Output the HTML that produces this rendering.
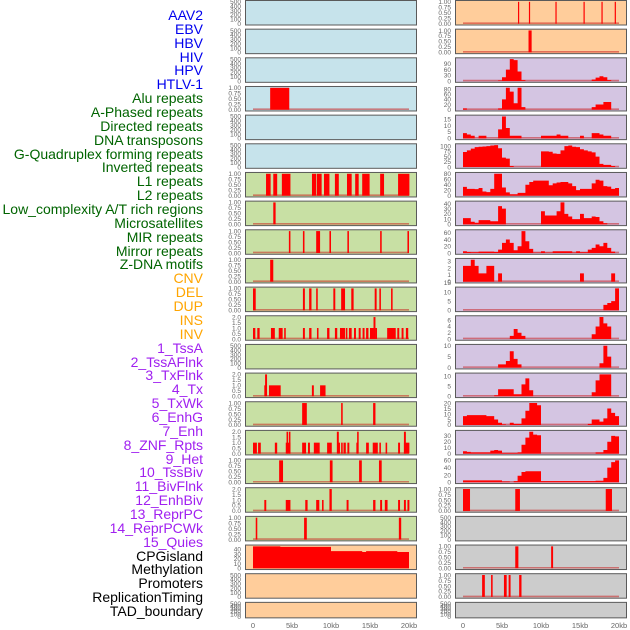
<!DOCTYPE html>
<html><head><meta charset="utf-8"><style>
html,body{margin:0;padding:0;background:#fff;}
#wrap{position:relative;width:630px;height:630px;overflow:hidden;font-family:"Liberation Sans",sans-serif;}
.lab{position:absolute;right:427px;font-size:14px;line-height:14px;white-space:nowrap;}
svg{position:absolute;left:0;top:0;}
</style></head><body>
<div id="wrap">
<div id="labels"></div>
<svg id="chart" width="630" height="630"></svg>
</div>
<script>
// ---- track labels ----
const labelNames = ["AAV2","EBV","HBV","HIV","HPV","HTLV-1","Alu repeats","A-Phased repeats","Directed repeats","DNA transposons","G-Quadruplex forming repeats","Inverted repeats","L1 repeats","L2 repeats","Low_complexity A/T rich regions","Microsatellites","MIR repeats","Mirror repeats","Z-DNA motifs","CNV","DEL","DUP","INS","INV","1_TssA","2_TssAFlnk","3_TxFlnk","4_Tx","5_TxWk","6_EnhG","7_Enh","8_ZNF_Rpts","9_Het","10_TssBiv","11_BivFlnk","12_EnhBiv","13_ReprPC","14_ReprPCWk","15_Quies","CPGisland","Methylation","Promoters","ReplicationTiming","TAD_boundary"];
const labelGroups = [6,13,5,15,5];
const groupColors = ["#0000ee","#006400","#ffa500","#a020f0","#000000"];

// ---- tick labels ----
const ticks500 = ["0","100","200","300","400","500"];
const ticks1 = ["0.00","0.25","0.50","0.75","1.00"];
const ticks2 = ["0.0","0.5","1.0","1.5","2.0"];
const xTickLabels = ["0","5kb","10kb","15kb","20kb"];
const xTickValues = [0,5,10,15,20];

// ---- interval data (start kb, end kb, height) ----
const hivLeftIntervals = [[2.2,4.65,1]];
const l1Intervals = [[1.67,2.26,1],[2.6,3.1,1],[3.7,4.8,1],[7.56,8.08,1],[8.17,8.8,1],[9.1,9.8,1],[10.5,11.0,1],[12.05,12.65,1],[13.1,13.55,1],[14.0,14.95,1],[16.3,16.8,1],[18.6,20.05,1]];
const l2Intervals = [[2.6,2.9,1]];
const lowcLeftIntervals = [[4.6,4.8,1],[6.4,6.6,1],[8.1,8.6,1],[9.8,10.0,1],[12.1,12.3,1],[16.3,16.5,1],[19.8,20.0,1]];
const microLeftIntervals = [[2.2,2.6,1]];
const mirLeftIntervals = [[0,0.35,1],[6.4,6.65,1],[7.2,7.5,1],[8.1,8.3,1],[10.3,10.55,1],[11.3,11.8,1],[12.6,12.9,1],[15.6,15.85,1],[16.2,16.4,1],[17.7,17.9,1]];
const mirrorLeftIntervals = [[0,0.3,1],[0.55,0.85,1],[2.3,2.8,1],[3.3,3.8,1],[4.0,4.2,1],[6.4,6.65,1],[7.2,7.5,1],[8.2,8.4,1],[9.5,9.8,1],[10.5,10.8,1],[11.15,11.8,1],[11.9,12.1,1],[12.3,12.65,1],[12.95,13.2,1],[13.55,13.8,1],[14.05,14.3,1],[14.5,14.8,1],[15.0,15.45,1],[15.45,15.7,2],[15.7,15.9,1],[17.2,18.3,1],[18.5,18.75,1],[19.05,19.3,1],[19.6,19.9,1]];
const cnvIntervals = [[1.45,1.65,1],[1.55,1.8,2],[2.05,3.55,1],[7.55,7.8,1],[8.6,9.3,1]];
const delIntervals = [[6.3,6.9,1],[11.3,11.5,1],[15.4,15.7,1]];
const dupIntervals = [[0,0.5,1],[0.65,1.0,1],[2.8,3.1,1],[4.2,4.8,1],[4.3,4.5,2],[4.6,4.8,2],[6.3,6.8,1],[7.05,7.3,1],[7.8,8.55,1],[9.5,10.1,1],[10.75,11.0,2],[10.85,11.15,1],[11.3,11.5,1],[11.6,11.9,1],[12.1,12.35,1],[13.25,13.45,1],[13.35,13.55,2],[14.5,14.85,1],[15.35,16.0,1],[16.2,16.4,1],[17.0,17.2,1],[18.6,18.85,1],[19.35,20.05,1],[19.35,19.6,2]];
const row16LeftIntervals = [[3.35,3.85,1],[9.85,10.2,1],[13.6,13.95,1],[16.15,16.5,1]];
const row17LeftIntervals = [[1.45,1.7,1],[4.2,4.8,1],[6.7,7.0,1],[8.1,8.5,1],[8.85,9.05,1],[9.8,10.1,2],[12.0,12.25,1],[15.4,15.7,1],[16.3,16.55,1],[16.9,17.25,1],[18.6,18.85,1],[19.35,19.6,1],[19.8,20.05,1]];
const row18LeftIntervals = [[0.35,0.55,1],[6.55,6.9,1],[18.7,19.0,1]];
const insIntervals = [[7.05,7.2,1],[8.45,8.6,1],[11.85,12.0,1],[15.45,15.6,1],[17.75,17.9,1],[19.45,19.6,1]];
const invIntervals = [[8.4,8.8,1]];
const enhBivIntervals = [[0,0.9,1],[6.7,7.3,1],[18.3,19.1,1]];
const cpgIntervals = [[6.7,7.1,1],[11.3,11.55,1]];
const promoterIntervals = [[2.45,2.8,1],[3.6,3.8,1],[5.25,5.6,1],[5.85,6.1,1],[7.2,7.5,1]];

// ---- binned data (40 bins of 0.5 kb from 0 to 20 kb) ----
const hivRightBins = [0,0,0,0,0,0,0,0,0,3,20,60,115,110,50,5,0,0,0,0,0,0,0,0,0,0,0,0,0,0,0,0,0,8,18,25,20,5,0,0];
const hpvBins = [5,0,0,0,0,0,0,0,0,5,40,85,70,25,85,10,0,0,0,0,0,0,0,0,0,0,0,0,0,0,0,0,0,10,20,20,30,30,0,0];
const htlvBins = [4,3,2,0,2,2,0,0,0,7,17,8,2,2,2,0,0,0,0,0,2,2,2,2,3,2,2,0,0,0,2,0,0,4,4,3,2,2,0,0];
const aluBins = [72,80,88,95,97,98,100,103,105,90,45,40,5,0,0,0,0,0,0,0,75,75,73,65,63,80,100,103,97,95,85,80,75,70,50,15,10,10,5,0];
const aphasedBins = [32,25,25,24,28,15,13,25,80,80,30,12,5,5,10,10,40,50,55,55,55,55,38,45,48,50,50,45,35,20,25,25,25,45,58,55,35,33,25,28];
const directedBins = [12,12,5,3,8,8,8,6,6,35,30,0,0,0,0,0,0,0,0,0,25,17,17,17,25,42,20,15,10,10,20,12,12,15,14,6,2,0,0,0];
const dnaBins = [5,3,2,2,4,4,4,4,3,10,30,40,30,8,20,65,35,12,1,1,5,1,1,5,5,5,5,5,1,5,2,2,10,15,25,20,30,15,4,0];
const gquadBins = [2.3,2.3,3.2,2.3,1.2,1.2,2.3,2.3,0,1.2,0,0,0,0,0,0,0,0,0,0,0,0,0,0,0,0,0,0,0,0,1.2,0,0,0,0,0,0,0,1.2,0];
const invertedBins = [0,0,0,0,0,0,0,0,0,0,0,0,0,0,0,0,0,0,0,0,0,0,0,0,0,0,0,0,0,0,0,0,0,0,0,0,3,4,5,12];
const lowcRightBins = [0,0,0,0,0,0,0,0,0,0,0,0,1,3.2,2,1,0,0,0,0,0,0,0,0,0,0,0,0,0,0,0,0,0,1.5,4,7,5,4,0,0];
const microRightBins = [0,0,0,0,0,0,0,0,0,1.5,1.5,3,7.5,4,1.5,0,0,0,0,0,0,0,0,0,0,0,0,0,0,0,0,0,0,0,0,2,10,5,0,0];
const mirRightBins = [0,0,0,0,0,0,0,0,0.5,3.5,3.5,3.5,3.5,1,1,6,9,3,0,0,0,0,0,0,0,0,0,0,0,0,0,0,0,2,8,11,11,11,0,0];
const mirrorRightBins = [8,9,9,9,9,9,8,8,5,2,0.5,0,2,1,1,6,13,20,20,18,0,0,0,0,0,0,0,0,0,0,0,0,1,5,5,3,6,15,11,8];
const zdnaRightBins = [4,3,2,2,2,2,2,5,6,5,1,1,1,1,2,15,27,37,32,31,0,0,0,0,0,0,0,0,0,0,0,0,0,0,2,2,6,20,30,29];
const row16RightBins = [5,5,5,5,5,5,5,5,5,5,2,2,0,3,18,28,30,30,30,30,3,3,3,3,3,3,3,3,3,3,3,3,3,3,4,4,12,40,55,60];
const cnvAreaBins = [46,46,46,46,46,46,46,45,45,45,45,45,45,45,45,45,45,45,45,45,36,36,36,36,36,36,36,36,34,36,36,36,36,36,36,36,36,34,34,34];

const colBg = {blue:"#c6e3eb",green:"#c8e0a4",orange:"#ffcd9b",purple:"#d4c5e2",grey:"#cccccc"};

// panel spec: [col,row,bg,kind,dataRef,ticks,name]
const panels = [
 [0,0,"blue","empty",null,ticks500,"aav2"],
 [0,1,"blue","empty",null,ticks500,"ebv"],
 [0,2,"blue","empty",null,ticks500,"hbv"],
 [0,3,"blue","bars",hivLeftIntervals,ticks1,"hiv"],
 [0,4,"blue","empty",null,ticks500,"hpv"],
 [0,5,"blue","empty",null,ticks500,"htlv1"],
 [0,6,"green","bars",l1Intervals,ticks1,"alu"],
 [0,7,"green","bars",l2Intervals,ticks1,"a-phased"],
 [0,8,"green","bars",lowcLeftIntervals,ticks1,"directed"],
 [0,9,"green","bars",microLeftIntervals,ticks1,"dna-transposons"],
 [0,10,"green","bars",mirLeftIntervals,ticks1,"g-quadruplex"],
 [0,11,"green","bars",mirrorLeftIntervals,ticks2,"inverted"],
 [0,12,"green","empty",null,ticks500,"l1"],
 [0,13,"green","bars",cnvIntervals,ticks2,"l2"],
 [0,14,"green","bars",delIntervals,ticks1,"low-complexity"],
 [0,15,"green","bars",dupIntervals,ticks2,"microsatellites"],
 [0,16,"green","bars",row16LeftIntervals,ticks1,"mir"],
 [0,17,"green","bars",row17LeftIntervals,ticks2,"mirror"],
 [0,18,"green","bars",row18LeftIntervals,ticks1,"z-dna"],
 [0,19,"orange","area",cnvAreaBins,["0","10","20","30","40"],"cnv"],
 [0,20,"orange","empty",null,ticks500,"del"],
 [0,21,"orange","empty",null,ticks500,"dup"],
 [1,0,"orange","bars",insIntervals,ticks1,"ins"],
 [1,1,"orange","bars",invIntervals,ticks1,"inv"],
 [1,2,"purple","area",hivRightBins,["0","30","60","90"],"tssa"],
 [1,3,"purple","area",hpvBins,["0","20","40","60","80"],"tssaflnk"],
 [1,4,"purple","area",htlvBins,["0","5","10","15"],"txflnk"],
 [1,5,"purple","area",aluBins,["0","25","50","75","100"],"tx"],
 [1,6,"purple","area",aphasedBins,["0","20","40","60","80"],"txwk"],
 [1,7,"purple","area",directedBins,["0","10","20","30","40"],"enhg"],
 [1,8,"purple","area",dnaBins,["0","20","40","60"],"enh"],
 [1,9,"purple","area",gquadBins,["0","1","2","3"],"znf-rpts"],
 [1,10,"purple","area",invertedBins,["0","5","10","15"],"het"],
 [1,11,"purple","area",lowcRightBins,["0","2","4","6"],"tssbiv"],
 [1,12,"purple","area",microRightBins,["0","5","10"],"bivflnk"],
 [1,13,"purple","area",mirRightBins,["0","5","10"],"enhbiv"],
 [1,14,"purple","area",mirrorRightBins,["0","5","10","15","20"],"reprpc"],
 [1,15,"purple","area",zdnaRightBins,["0","10","20","30"],"reprpcwk"],
 [1,16,"purple","area",row16RightBins,["0","20","40","60"],"quies"],
 [1,17,"grey","bars",enhBivIntervals,ticks1,"cpgisland"],
 [1,18,"grey","empty",null,ticks500,"methylation"],
 [1,19,"grey","bars",cpgIntervals,ticks1,"promoters"],
 [1,20,"grey","bars",promoterIntervals,ticks1,"replication-timing"],
 [1,21,"grey","empty",null,ticks500,"tad-boundary"]
];

// labels
const labDiv = document.getElementById('labels');
let li = 0;
labelGroups.forEach((n,g)=>{
  for(let k=0;k<n;k++){
    const d = document.createElement('div');
    d.className='lab';
    d.textContent = labelNames[li];
    d.style.top = (8 + li*13.86)+'px';
    d.style.color = groupColors[g];
    
    
    labDiv.appendChild(d);
    li++;
  }
});

const svg = document.getElementById('chart');
const NS = "http://www.w3.org/2000/svg";
function mk(tag, attrs, parent){
  const e = document.createElementNS(NS, tag);
  for(const k in attrs) e.setAttribute(k, attrs[k]);
  parent.appendChild(e);
  return e;
}
const colX = [245,455];
const panelW = 171;
function xScale(col, kb){ return colX[col] + 8 + kb*7.8; }

panels.forEach(p=>{
  const [col,row,bg,kind,data,ticks,name] = p;
  const top = row*28.66 + 0.5;
  const h = row===21 ? 15.5 : 24.5;
  const g = mk('g',{},svg);
  
  
  const r = mk('rect',{x:colX[col]+0.5,y:top,width:panelW,height:h,fill:colBg[bg],stroke:"#5a5a5a","stroke-width":1},g);
  
  
  const y0 = top + h - 1.3;
  const yTop = top + 1.3;
  let ymax;
  if(kind==="area") ymax = Math.max(...data);
  else ymax = parseFloat(ticks[ticks.length-1]);
  const yS = v => y0 - v/ymax*(y0-yTop);
  // tick labels
  ticks.forEach(t=>{
    const v = parseFloat(t);
    const tx = mk('text',{x:colX[col]-4,y:yS(v)+2.3,"text-anchor":"end","font-size":"6.5","fill":"#666","font-family":"Liberation Sans, sans-serif"},g);
    tx.textContent = t;
    
    
  });
  if(kind==="empty") return;
  const bl = mk('line',{x1:xScale(col,0),x2:xScale(col,20),y1:y0-0.5,y2:y0-0.5,stroke:"rgba(200,20,20,0.5)","stroke-width":1.6},g);
  
  
  if(kind==="bars"){
    data.forEach(iv=>{
      const x1 = xScale(col,iv[0]), x2 = xScale(col,iv[1]);
      const b = mk('rect',{x:x1,y:yS(iv[2]),width:Math.max(1.2,x2-x1),height:y0-yS(iv[2]),fill:"#ff0000"},g);
      
      
    });
  } else {
    let d = "M"+xScale(col,0)+","+y0;
    data.forEach((v,i)=>{
      d += " L"+xScale(col,i*0.5)+","+yS(v)+" L"+xScale(col,(i+1)*0.5)+","+yS(v);
    });
    d += " L"+xScale(col,20)+","+y0+" Z";
    const a = mk('path',{d:d,fill:"#ff0000"},g);
    
    
  }
});

// x-axis tick labels
[0,1].forEach(col=>{
  xTickValues.forEach((v,i)=>{
    const t = mk('text',{x:xScale(col,v),y:628,"text-anchor":"middle","font-size":"7.5","fill":"#666","font-family":"Liberation Sans, sans-serif"},svg);
    t.textContent = xTickLabels[i];
    
    
  });
});
</script>
</body></html>
